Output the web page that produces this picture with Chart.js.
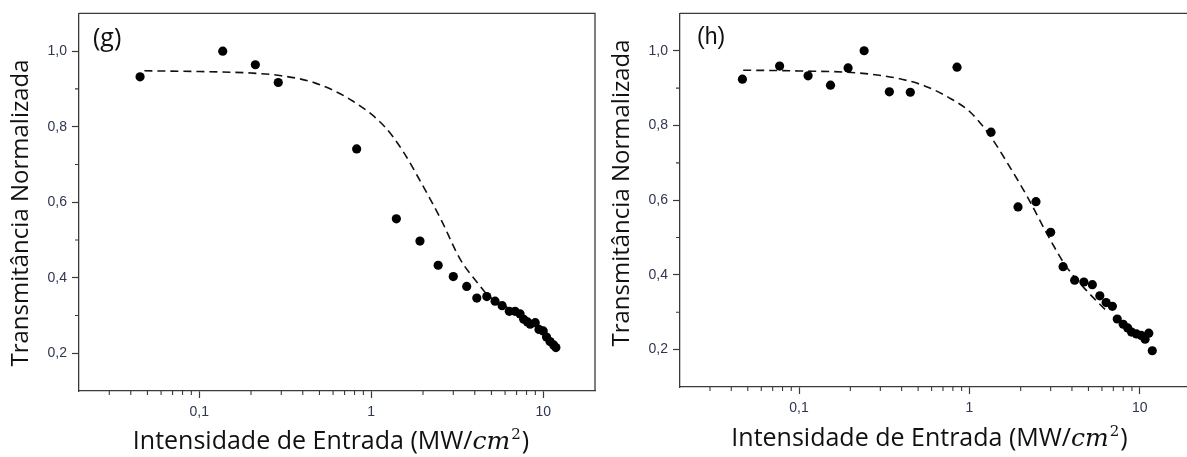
<!DOCTYPE html>
<html><head><meta charset="utf-8">
<script src="https://cdn.jsdelivr.net/npm/chart.js@4.4.1/dist/chart.umd.min.js"></script>
<style>
html,body{margin:0;padding:0;background:#fff;overflow:hidden;width:1187px;height:457px;}
#wrap{position:relative;width:1187px;height:457px;overflow:hidden;background:#fff;}
canvas{position:absolute;top:0;}
#cg{left:0;}
#ch{left:600px;}
</style></head><body>
<div id="wrap"><canvas id="cg" width="600" height="457"></canvas><canvas id="ch" width="600" height="457"></canvas></div>
<script>
// ---------- data ----------
const xTickValues = [0.1, 1, 10];
const xMinorTicks = [0.03,0.04,0.05,0.06,0.07,0.08,0.09,0.2,0.3,0.4,0.5,0.6,0.7,0.8,0.9,2,3,4,5,6,7,8,9];
const yTickValues = [0.2, 0.4, 0.6, 0.8, 1.0];
const yMinorTicks = [0.3, 0.5, 0.7, 0.9];

const gIntensity = [0.0453,0.137,0.212,0.288,0.823,1.40,1.92,2.45,3.0,3.59,4.11,4.70,5.25,5.77,6.35,6.86,7.34,7.7,8.1,8.4,8.99,9.45,10.0,10.45,10.95,11.5,11.85];
const gTransmittance = [0.932,1.000,0.964,0.917,0.741,0.556,0.497,0.433,0.403,0.377,0.346,0.350,0.338,0.326,0.311,0.311,0.304,0.290,0.283,0.277,0.281,0.263,0.259,0.243,0.231,0.222,0.215];
const gFitIntensity = [0.048,0.1,0.2,0.3,0.47,0.78,1.18,1.52,1.96,2.54,3.28,4.24,4.8,6.0,7.5,8.5];
const gFitTransmittance = [0.948,0.946,0.942,0.935,0.916,0.868,0.803,0.737,0.650,0.555,0.450,0.381,0.352,0.325,0.295,0.280];

const hIntensity = [0.0465,0.0769,0.113,0.153,0.194,0.241,0.339,0.450,0.846,1.34,1.93,2.46,3.0,3.55,4.15,4.70,5.27,5.83,6.35,6.91,7.38,8.0,8.5,8.95,9.57,10.2,10.75,11.3,11.85];
const hTransmittance = [0.924,0.959,0.933,0.908,0.954,1.000,0.890,0.889,0.956,0.782,0.582,0.596,0.514,0.422,0.386,0.381,0.374,0.344,0.326,0.316,0.282,0.268,0.258,0.247,0.242,0.238,0.228,0.244,0.197];
const hFitIntensity = [0.047,0.1,0.216,0.362,0.546,0.783,1.01,1.31,1.69,2.19,2.84,3.67,4.74,6.5];
const hFitTransmittance = [0.948,0.946,0.941,0.928,0.906,0.871,0.836,0.775,0.696,0.609,0.512,0.425,0.364,0.300];

const yTitle = 'Transmitância Normalizada';
const xTitleMain = 'Intensidade de Entrada (MW/';
const xTitleUnit = 'cm';
const xTitleExp = '2';
const xTitleEnd = ')';

// ---------- styles ----------
const axisColor = '#3a3a3a';
const tickLabelColor = '#30364f';
const titleFont = '"Open Sans", sans-serif';

function pts(xs, ys){ return xs.map((x,i)=>({x:x, y:ys[i]})); }

const decorPlugin = {
  id: 'decor',
  afterDraw(chart, args, o) {
    const ctx = chart.ctx, a = chart.chartArea;
    const xs = chart.scales.x, ys = chart.scales.y;
    ctx.save();
    ctx.strokeStyle = axisColor; ctx.lineWidth = 1.3;
    ctx.beginPath();
    ctx.moveTo(a.left, a.top); ctx.lineTo(a.right, a.top); ctx.lineTo(a.right, a.bottom);
    ctx.stroke();
    ctx.lineWidth = 1.1;
    ctx.beginPath();
    xMinorTicks.forEach(v => { const p = xs.getPixelForValue(v); ctx.moveTo(p, a.bottom); ctx.lineTo(p, a.bottom + 4); });
    yMinorTicks.forEach(v => { const p = ys.getPixelForValue(v); ctx.moveTo(a.left - 4, p); ctx.lineTo(a.left, p); });
    ctx.stroke();
    ctx.fillStyle = '#111';
    ctx.font = o.labelFont;
    ctx.textBaseline = 'alphabetic'; ctx.textAlign = 'left';
    ctx.fillText(o.label, o.labelX, o.labelY);
    ctx.save();
    ctx.font = '24px ' + titleFont;
    ctx.translate(o.yTitleX, o.yTitleY);
    ctx.rotate(-Math.PI/2);
    ctx.textAlign = 'center'; ctx.textBaseline = 'middle';
    ctx.fillText(yTitle, 0, 0);
    ctx.restore();
    const f1 = '25px ' + titleFont, f2 = 'italic 25px "DejaVu Serif", serif', f3 = '15px "DejaVu Serif", serif';
    ctx.font = f1; const w1 = ctx.measureText(xTitleMain).width, w4 = ctx.measureText(xTitleEnd).width;
    ctx.font = f2; const w2 = ctx.measureText(xTitleUnit).width;
    ctx.font = f3; const w3 = ctx.measureText(xTitleExp).width;
    let x = o.xTitleX - (w1 + w2 + w3 + 2 + w4) / 2;
    const y = o.xTitleY;
    ctx.textAlign = 'left'; ctx.textBaseline = 'alphabetic';
    ctx.font = f1; ctx.fillText(xTitleMain, x, y); x += w1;
    ctx.font = f2; ctx.fillText(xTitleUnit, x, y); x += w2 + 1;
    ctx.font = f3; ctx.fillText(xTitleExp, x, y - 10); x += w3 + 1;
    ctx.font = f1; ctx.fillText(xTitleEnd, x, y);
    ctx.restore();
  }
};

function makeChart(id, cfg) {
  return new Chart(document.getElementById(id), {
    type: 'scatter',
    data: {
      datasets: [
        { type: 'line', data: pts(cfg.fitX, cfg.fitY), borderColor: '#111', borderWidth: 1.6, borderDash: [8,5],
          pointRadius: 0, fill: false, cubicInterpolationMode: 'monotone', order: 2 },
        { type: 'scatter', data: pts(cfg.x, cfg.y), backgroundColor: '#000', borderColor: '#000', borderWidth: 0,
          pointRadius: 4.6, pointHoverRadius: 4.6, order: 1 }
      ]
    },
    options: {
      responsive: false, animation: false, events: [],
      layout: { padding: cfg.padding },
      plugins: { legend: { display: false }, tooltip: { enabled: false }, decor: cfg.decor },
      scales: {
        x: {
          type: 'logarithmic', min: 0.02, max: 20,
          afterBuildTicks: s => { s.ticks = xTickValues.map(v => ({ value: v })); },
          afterFit: s => { s.height = cfg.xAxisH; },
          grid: { drawOnChartArea: false, drawTicks: true, tickLength: 7, tickColor: axisColor, tickWidth: 1.2 },
          border: { display: true, color: axisColor, width: 1.3 },
          ticks: { autoSkip: false, maxRotation: 0, padding: 6, color: tickLabelColor,
                   font: { family: '"Liberation Sans", Arial, sans-serif', size: 14 },
                   callback: v => String(v).replace('.', ',') }
        },
        y: {
          type: 'linear', min: 0.1, max: 1.1,
          afterBuildTicks: s => { s.ticks = yTickValues.map(v => ({ value: v })); },
          afterFit: s => { s.width = cfg.yAxisW; },
          grid: { drawOnChartArea: false, drawTicks: true, tickLength: 7, tickColor: axisColor, tickWidth: 1.2 },
          border: { display: true, color: axisColor, width: 1.3 },
          ticks: { autoSkip: false, padding: 5, color: tickLabelColor,
                   font: { family: '"Liberation Sans", Arial, sans-serif', size: 14 },
                   callback: v => Number(v).toFixed(1).replace('.', ',') }
        }
      }
    },
    plugins: [decorPlugin]
  });
}

makeChart('cg', {
  x: gIntensity, y: gTransmittance, fitX: gFitIntensity, fitY: gFitTransmittance,
  padding: { left: 0, top: 7, right: 5, bottom: 0 }, xAxisH: 66, yAxisW: 79,
  decor: { label: '(g)', labelFont: '25px ' + titleFont, labelX: 93, labelY: 46,
           yTitleX: 21, yTitleY: 213, xTitleX: 331, xTitleY: 449 }
});
makeChart('ch', {
  x: hIntensity, y: hTransmittance, fitX: hFitIntensity, fitY: hFitTransmittance,
  padding: { left: 0, top: 5, right: 9, bottom: 0 }, xAxisH: 70, yAxisW: 80,
  decor: { label: '(h)', labelFont: '23px "Liberation Sans", Arial, sans-serif', labelX: 97, labelY: 44,
           yTitleX: 22, yTitleY: 193, xTitleX: 329.5, xTitleY: 446 }
});
</script>
</body></html>
